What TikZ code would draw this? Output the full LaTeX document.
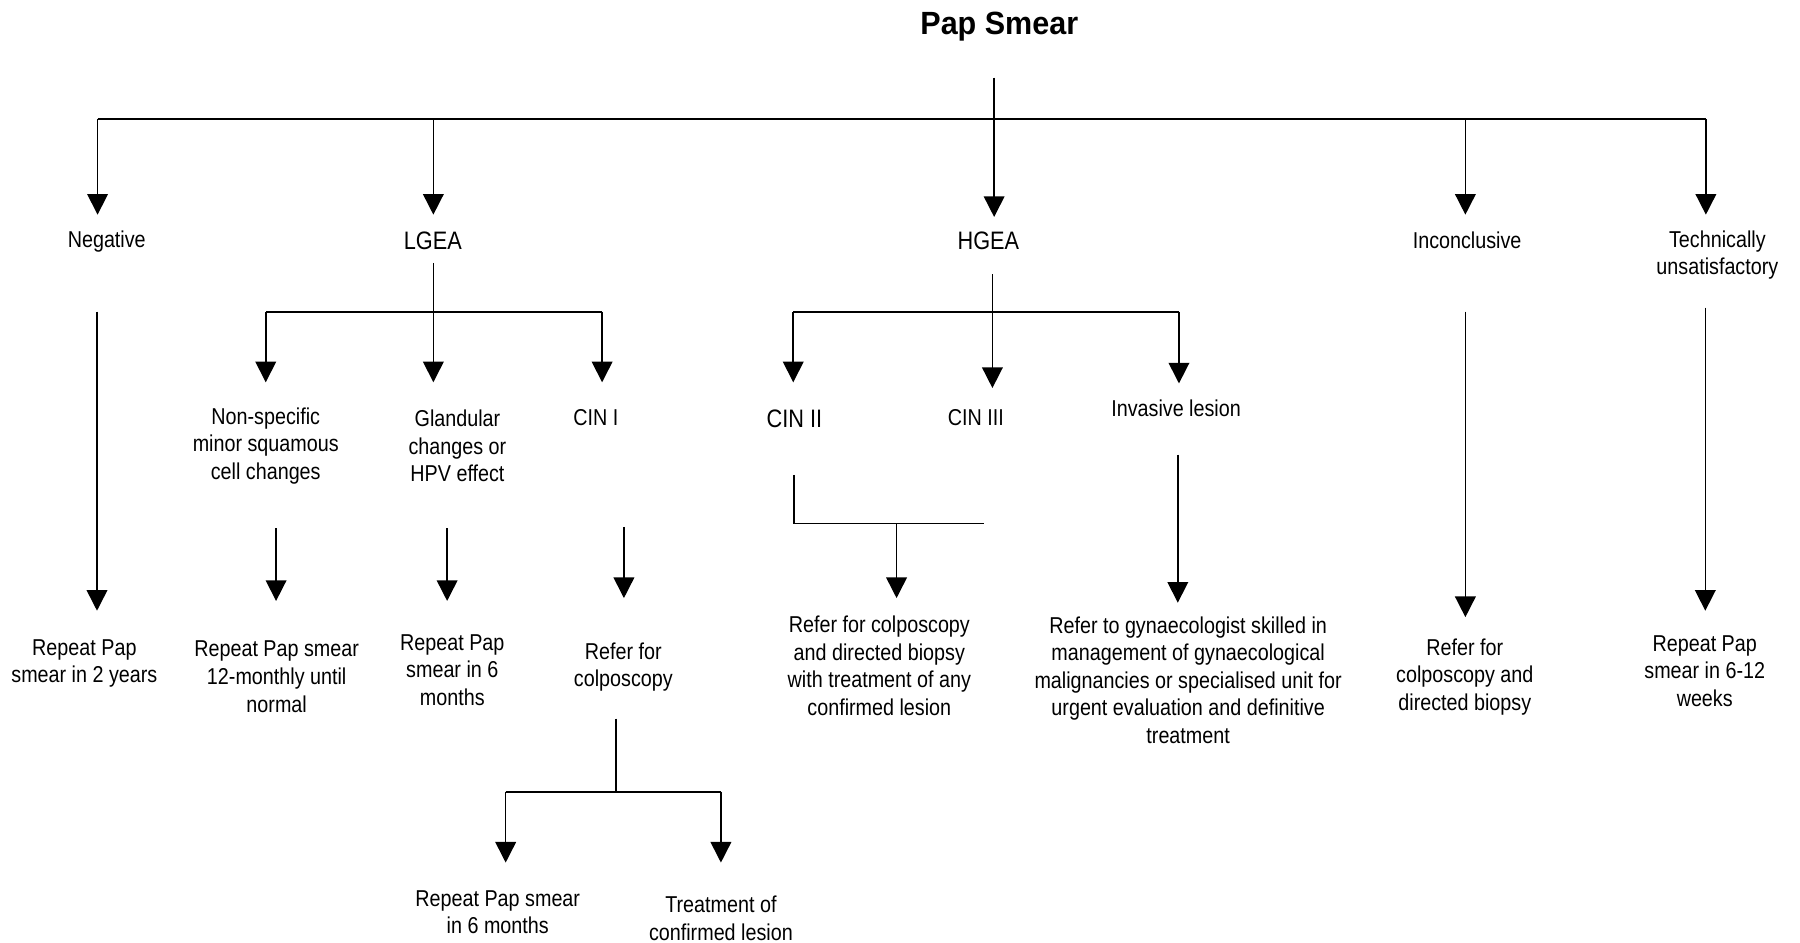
\documentclass[tikz,border=0pt]{standalone}
\usepackage{fontspec}
\setmainfont[FakeStretch=0.86]{Liberation Sans}
\newfontfamily\titlefont[FakeStretch=0.95]{Liberation Sans}
\usetikzlibrary{arrows.meta}
\tikzset{
  lbl/.style={align=center, inner sep=0pt, font=\fontsize{10}{12}\selectfont},
  biglbl/.style={align=center, inner sep=0pt, font=\fontsize{11}{13}\selectfont},
  ttl/.style={inner sep=0pt, font=\titlefont\bfseries\fontsize{14}{16}\selectfont},
  ln/.style={line width=0.8pt},
  arr/.style={line width=0.7pt, -{Triangle[length=9pt,width=9pt]}}
}
\begin{document}
\begin{tikzpicture}[x=0.5pt,y=-0.5pt]
\useasboundingbox (0,0) rectangle (1568,821);
% ---- nodes
\node[ttl] (title) at (870.5,23) {Pap Smear};
\node[lbl] (neg) at (93,210) {Negative};
\node[biglbl] (lgea) at (377,210) {LGEA};
\node[biglbl] (hgea) at (861,210) {HGEA};
\node[lbl] (incon) at (1278,209.5) {Inconclusive};
\node[lbl] (tech) at (1496,222) {Technically\\unsatisfactory};
\node[lbl] (nonspec) at (231.5,388.5) {Non-specific\\minor squamous\\cell changes};
\node[lbl] (gland) at (398.5,388.5) {Glandular\\changes or\\HPV effect};
\node[lbl] (cini) at (519,363.5) {CIN I};
\node[biglbl] (cinii) at (692,365) {CIN II};
\node[lbl] (ciniii) at (850,363.5) {CIN III};
\node[lbl] (inv) at (1024.5,356) {Invasive lesion};
\node[lbl] (rep2y) at (73.5,578) {Repeat Pap\\smear in 2 years};
\node[lbl] (rep12) at (241,589.5) {Repeat Pap smear\\12-monthly until\\normal};
\node[lbl] (rep6) at (394,583.5) {Repeat Pap\\smear in 6\\months};
\node[lbl] (refcol) at (543,581) {Refer for\\colposcopy};
\node[lbl] (refbio) at (766,580) {Refer for colposcopy\\and directed biopsy\\with treatment of any\\confirmed lesion};
\node[lbl] (gyn) at (1035,592.5) {Refer to gynaecologist skilled in\\management of gynaecological\\malignancies or specialised unit for\\urgent evaluation and definitive\\treatment};
\node[lbl] (refdb) at (1276,589.5) {Refer for\\colposcopy and\\directed biopsy};
\node[lbl] (rep612) at (1485,584.5) {Repeat Pap\\smear in 6-12\\weeks};
\node[lbl] (rep6m) at (433.6,794.5) {Repeat Pap smear\\in 6 months};
\node[lbl] (treat) at (628,800) {Treatment of\\confirmed lesion};
% ---- coordinates
\coordinate (t0) at (866,67.7);
\coordinate (tL) at (85,104);
\coordinate (tLG) at (377.5,104);
\coordinate (tH) at (866,104);
\coordinate (tI) at (1276.5,104);
\coordinate (tR) at (1486,104);
\coordinate (aNeg) at (85,187);
\coordinate (aLG) at (377.5,187);
\coordinate (aH) at (866,189);
\coordinate (aI) at (1276.5,187);
\coordinate (aT) at (1486,187);
% negative
\coordinate (negS) at (84.5,271.5);
\coordinate (negA) at (84.5,532);
% LGEA
\coordinate (lgS) at (377.5,229);
\coordinate (lgL) at (231.5,271.5);
\coordinate (lgR) at (524.5,271.5);
\coordinate (lgAL) at (231.5,333);
\coordinate (lgAM) at (377.5,333);
\coordinate (lgAR) at (524.5,333);
\coordinate (nsS) at (240.5,460);
\coordinate (nsA) at (240.5,523.5);
\coordinate (glS) at (389.5,460);
\coordinate (glA) at (389.5,523.5);
\coordinate (c1S) at (543.5,459);
\coordinate (c1A) at (543.5,521);
\coordinate (rcS) at (536.5,626);
\coordinate (rcJ) at (536.5,689.6);
\coordinate (rcL) at (440.5,689.6);
\coordinate (rcR) at (628,689.6);
\coordinate (rcAL) at (440.5,751.4);
\coordinate (rcAR) at (628,751.4);
% HGEA
\coordinate (hgS) at (864.5,239);
\coordinate (hgL) at (691,271.5);
\coordinate (hgR) at (1027,271.5);
\coordinate (hgAL) at (691,333);
\coordinate (hgAM) at (864.5,338);
\coordinate (hgAR) at (1027,334);
\coordinate (c2S) at (692,413.7);
\coordinate (c2J) at (692,456);
\coordinate (c2E) at (857,456);
\coordinate (c2M) at (781,456);
\coordinate (c2A) at (781,521);
\coordinate (ivS) at (1026,396);
\coordinate (ivA) at (1026,525);
\coordinate (inS) at (1276.5,271.5);
\coordinate (inA) at (1276.5,537.6);
\coordinate (teS) at (1485.5,268);
\coordinate (teA) at (1485.5,532);
% ---- connectors
\draw[ln] (t0) -- (tH);
\draw[ln] (tL) -- (tR);
\draw[arr] (tL) -- (aNeg);
\draw[arr] (tLG) -- (aLG);
\draw[arr] (tH) -- (aH);
\draw[arr] (tI) -- (aI);
\draw[arr] (tR) -- (aT);
\draw[arr] (negS) -- (negA);
\draw[ln] (lgL) -- (lgR);
\draw[arr] (lgS) -- (lgAM);
\draw[arr] (lgL) -- (lgAL);
\draw[arr] (lgR) -- (lgAR);
\draw[arr] (nsS) -- (nsA);
\draw[arr] (glS) -- (glA);
\draw[arr] (c1S) -- (c1A);
\draw[ln] (rcS) -- (rcJ);
\draw[ln] (rcL) -- (rcR);
\draw[arr] (rcL) -- (rcAL);
\draw[arr] (rcR) -- (rcAR);
\draw[ln] (hgL) -- (hgR);
\draw[arr] (hgS) -- (hgAM);
\draw[arr] (hgL) -- (hgAL);
\draw[arr] (hgR) -- (hgAR);
\draw[ln] (c2S) -- (c2J) -- (c2E);
\draw[arr] (c2M) -- (c2A);
\draw[arr] (ivS) -- (ivA);
\draw[arr] (inS) -- (inA);
\draw[arr] (teS) -- (teA);
\end{tikzpicture}
\end{document}
